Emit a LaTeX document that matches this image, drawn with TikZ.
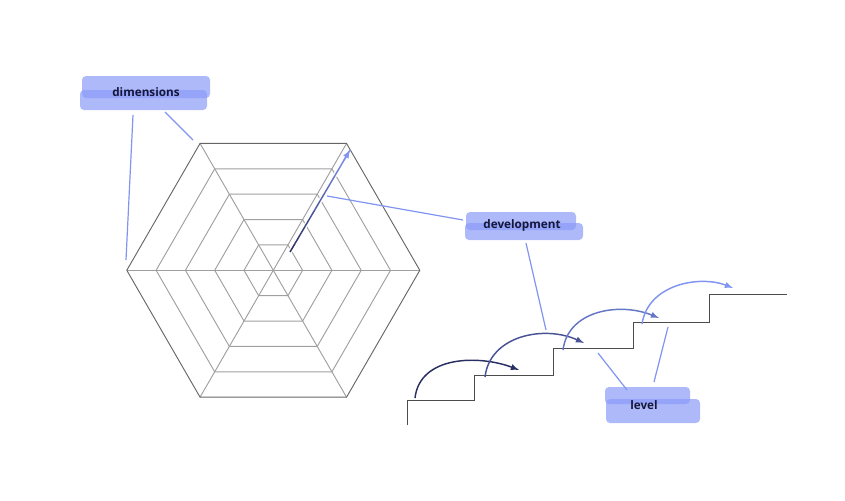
\documentclass[tikz,border=0pt]{standalone}
\usepackage{fontspec}
\setmainfont{Open Sans}
\usetikzlibrary{calc,backgrounds}
\definecolor{navy}{HTML}{2A2F63}
\definecolor{linkblue}{HTML}{8094F0}
\definecolor{hlblue}{HTML}{8A9BF7}
\definecolor{inkblue}{HTML}{15173A}

\begin{document}
\begin{tikzpicture}[x=0.75pt,y=-0.75pt,
        link/.style={linkblue, line width=0.9pt},
        hl/.style={hlblue, fill opacity=0.7, rounded corners=3pt},
        tag/.style={inkblue, font=\bfseries\fontsize{8.8}{10}\selectfont, inner sep=0pt},
        web/.style={gray!75, line width=0.7pt},
        hop/.style={line width=1.1pt, -latex}]
        \useasboundingbox (0,0) rectangle (845,500);
        % hexagon web
        \coordinate (c) at (273.3,270.3);
        \foreach \r in {1,2,3,4}
        {
            \draw[web] ($(c)+(0:\r*29.3)$) \foreach \a in {60,120,...,300} { -- ($(c)+(\a:\r*29.3)$) } -- cycle;
        }
        \foreach \a in {0,60,...,300}
        {
            \draw[web] (c) -- ($(c)+(\a:146.5)$);
        }
        \draw[black!60, line width=0.7pt] ($(c)+(0:146.5)$) \foreach \a in {60,120,...,300} { -- ($(c)+(\a:146.5)$) } -- cycle;
        % development arrow
        \coordinate (a1) at (290,252);
        \coordinate (a2) at (350,150);
        \draw[white, line width=3pt] (a1) -- ($(a1)!0.9!(a2)$);
        \foreach \i in {0,...,11}
        {
            \pgfmathsetmacro\p{100-\i*100/11}
            \draw[navy!\p!linkblue, line width=1.1pt] ($(a1)!\i/12!(a2)$) -- ($(a1)!{(\i+1)/12}!(a2)$);
        }
        \draw[hop, linkblue] ($(a1)!0.9!(a2)$) -- (a2);
        % stairs
        \draw[black!70, line width=0.75pt] (407,425) -- (407,400) -- (474,400) -- (474,375) -- (553,375) -- (553,348) -- (633,348) -- (633,322) -- (709,322) -- (709,294) -- (787,294);
        \draw[hop, navy] (415,398) .. controls (420,355) and (480,355) .. (519,370);
        \draw[hop, navy!65!linkblue] (485,377) .. controls (490,335) and (545,325) .. (584,343);
        \draw[hop, navy!30!linkblue] (563,350) .. controls (568,310) and (620,302) .. (659,318);
        \draw[hop, linkblue] (642,324) .. controls (648,284) and (700,275) .. (733,288);
        % labels
        \node[tag] (dim) at (146,92) {dimensions};
        \node[tag] (dev) at (522,225) {development};
        \node[tag] (lvl) at (644,405) {level};
        \begin{pgfonlayer}{background}
            \fill[hl] ($(dim)+(-64,-16)$) rectangle ($(dim)+(64,6)$);
            \fill[hl] ($(dim)+(-66,-2)$) rectangle ($(dim)+(61,18)$);
            \fill[hl] ($(dev)+(-56,-13)$) rectangle ($(dev)+(54,5)$);
            \fill[hl] ($(dev)+(-57,-2)$) rectangle ($(dev)+(61,15)$);
            \fill[hl] ($(lvl)+(-39,-18)$) rectangle ($(lvl)+(46,-1)$);
            \fill[hl] ($(lvl)+(-38,-6)$) rectangle ($(lvl)+(56,18)$);
        \end{pgfonlayer}
        \coordinate (d1) at (126,260);
        \coordinate (d2) at (193,140);
        \coordinate (e1) at (327,196);
        \coordinate (e2) at (546,330);
        \coordinate (l1) at (598,353);
        \coordinate (l2) at (668,327);
        \draw[link] ($(dim)+(-13,23)$) -- (d1);
        \draw[link] ($(dim)+(19,20)$) -- (d2);
        \draw[link] ($(dev)+(-59,-5)$) -- (e1);
        \draw[link] ($(dev)+(4,18)$) -- (e2);
        \draw[link] ($(lvl)+(-17,-15)$) -- (l1);
        \draw[link] ($(lvl)+(10,-23)$) -- (l2);
    \end{tikzpicture}
\end{document}
